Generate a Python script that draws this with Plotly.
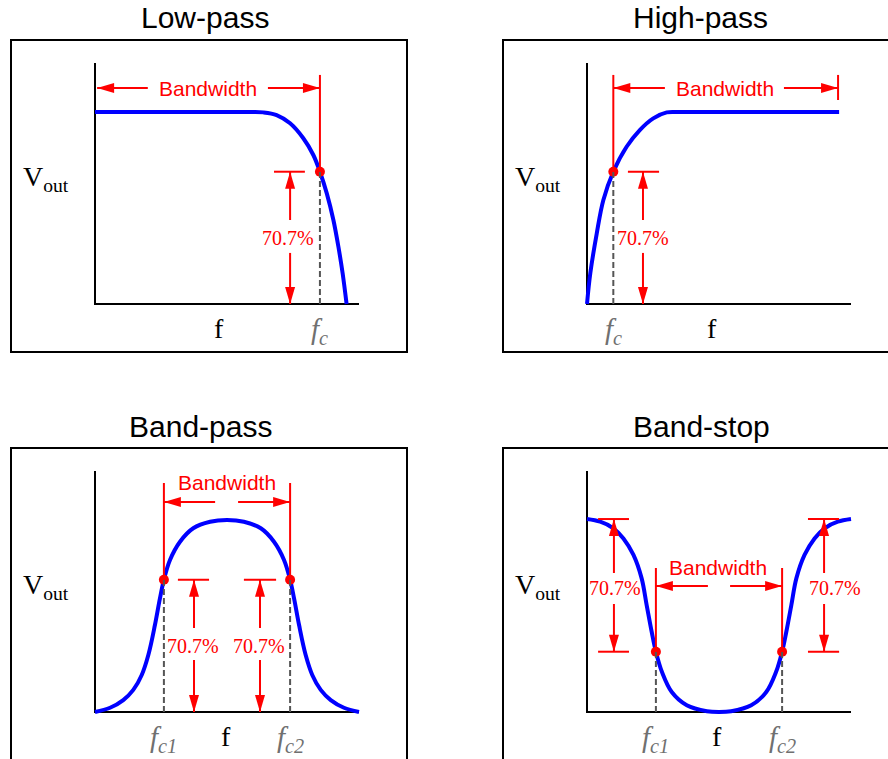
import plotly.graph_objects as go

# ── Curve data (f normalised to the axis length, Vout to the passband level) ──
LP_F = [0, 0.587, 0.638, 0.688, 0.739, 0.789, 0.827, 0.852, 0.878, 0.903, 0.922, 0.938, 0.953]
LP_V = [1, 1, 0.998, 0.984, 0.941, 0.863, 0.776, 0.689, 0.576, 0.4375, 0.298, 0.16, 0]

HP_F = [0, 0.0125, 0.037, 0.062, 0.0997, 0.15, 0.2, 0.251, 0.302, 0.352, 0.955]
HP_V = [0, 0.16, 0.368, 0.542, 0.689, 0.819, 0.906, 0.967, 0.998, 1, 1]

BP_F = [0, 0.057, 0.107, 0.145, 0.177, 0.202, 0.227, 0.246, 0.261, 0.284, 0.322, 0.372, 0.436, 0.5,
        0.564, 0.628, 0.678, 0.716, 0.739, 0.754, 0.773, 0.798, 0.823, 0.855, 0.893, 0.943, 1]
BP_V = [0, 0.022, 0.062, 0.115, 0.193, 0.297, 0.453, 0.592, 0.689, 0.792, 0.887, 0.957, 0.991, 1.0,
        0.991, 0.957, 0.887, 0.792, 0.689, 0.592, 0.453, 0.297, 0.193, 0.115, 0.062, 0.022, 0]

BS_F = [0, 0.05, 0.1, 0.138, 0.176, 0.207, 0.226, 0.245, 0.261, 0.284, 0.321, 0.378, 0.454, 0.5,
        0.546, 0.622, 0.679, 0.716, 0.739, 0.755, 0.774, 0.793, 0.824, 0.862, 0.9, 0.95, 1]
BS_V = [1.005, 0.991, 0.957, 0.904, 0.818, 0.696, 0.557, 0.418, 0.314, 0.208, 0.104, 0.035, 0.004, 0,
        0.004, 0.035, 0.104, 0.208, 0.314, 0.418, 0.557, 0.696, 0.818, 0.904, 0.957, 0.991, 1.005]

# cutoff points (f, Vout)
LP_CUT_F, LP_CUT_V = [0.852], [0.689]
HP_CUT_F, HP_CUT_V = [0.0997], [0.689]
BP_CUT_F, BP_CUT_V = [0.261, 0.739], [0.689, 0.689]
BS_CUT_F, BS_CUT_V = [0.261, 0.739], [0.314, 0.314]

TITLES = ['Low-pass', 'High-pass', 'Band-pass', 'Band-stop']

# ── Styling ────────────────────────────────────────────────────────────────
W, H = 888, 759
RED = '#FF0000'
BLUE = '#0000FF'
GRAY = '#707070'
SANS = 'Liberation Sans, Arial, sans-serif'
SERIF = 'Liberation Serif, Times New Roman, serif'
UX, UY = 264, 192          # pixels per data unit
HL, HW = 17, 5             # arrow head length / half width (px)

# panel geometry in pixels: axis origin, subplot domain box, frame box
ORIGINS = [(95, 304), (587, 304), (95, 712), (587, 712)]
DOMAINS = [(0, 444, 0, 379.5), (444, 888, 0, 379.5),
           (0, 444, 379.5, 759), (444, 888, 379.5, 759)]
FRAMES = [(11, 40, 407, 352), (503, 40, 900, 352),
          (11, 448, 407, 770), (503, 448, 900, 770)]
TITLE_POS = [(205, 18), (700, 18), (200, 426), (701, 426)]
VOUT_POS = [(21, 159), (513, 159), (21, 567), (513, 567)]

fig = go.Figure()
shapes, annos = [], []

layout_axes = {}
for i, ((ox, oy), (x0, x1, yt, yb)) in enumerate(zip(ORIGINS, DOMAINS), start=1):
    sfx = '' if i == 1 else str(i)
    layout_axes[f'xaxis{sfx}'] = dict(
        domain=[x0 / W, x1 / W], range=[(x0 - ox) / UX, (x1 - ox) / UX],
        visible=False, fixedrange=True, anchor=f'y{sfx}')
    layout_axes[f'yaxis{sfx}'] = dict(
        domain=[1 - yb / H, 1 - yt / H], range=[(oy - yb) / UY, (oy - yt) / UY],
        visible=False, fixedrange=True, anchor=f'x{sfx}')


def refs(n):
    return ('x', 'y') if n == 1 else (f'x{n}', f'y{n}')


def seg(n, xa, ya, xb, yb, color=RED, width=2, dash=None):
    xr, yr = refs(n)
    shapes.append(dict(type='line', xref=xr, yref=yr, x0=xa, y0=ya, x1=xb, y1=yb,
                       line=dict(color=color, width=width, dash=dash)))


def arrow(n, xa, ya, xb, yb):
    # tail (xa, ya) -> tip (xb, yb)
    xr, yr = refs(n)
    seg(n, xa, ya, xb, yb)
    if ya == yb:
        d = 1 if xb > xa else -1
        path = f'M0,0 L{-d * HL},{HW} L{-d * HL},{-HW} Z'
    else:
        d = 1 if yb > ya else -1
        path = f'M0,0 L{HW},{-d * HL} L{-HW},{-d * HL} Z'
    shapes.append(dict(type='path', xref=xr, yref=yr, xsizemode='pixel', ysizemode='pixel',
                       xanchor=xb, yanchor=yb, path=path, fillcolor=RED,
                       line=dict(width=0)))


def text(n, x, y, s, font, size, color, xanchor='center', yanchor='middle'):
    xr, yr = refs(n)
    annos.append(dict(xref=xr, yref=yr, x=x, y=y, text=s, showarrow=False,
                      xanchor=xanchor, yanchor=yanchor,
                      font=dict(family=font, size=size, color=color)))


def bw(n, x, y):
    text(n, x, y, 'Bandwidth', SANS, 21, RED)


def pct(n, x, y):
    text(n, x, y, '70.7%', SERIF, 20, RED)


def fc_label(n, x, s):
    text(n, x, -0.036, f'<i>{s}</i>', SERIF, 29, GRAY, yanchor='top')


def f_label(n, x):
    text(n, x, -0.036, 'f', SERIF, 28, 'black', yanchor='top')


curves = [(LP_F, LP_V, LP_CUT_F, LP_CUT_V), (HP_F, HP_V, HP_CUT_F, HP_CUT_V),
          (BP_F, BP_V, BP_CUT_F, BP_CUT_V), (BS_F, BS_V, BS_CUT_F, BS_CUT_V)]

for n, (cf, cv, kf, kv) in enumerate(curves, start=1):
    xr, yr = refs(n)
    # axes
    fig.add_trace(go.Scatter(x=[0, 0, 1], y=[1.255, 0, 0], mode='lines',
                             line=dict(color='black', width=2),
                             xaxis=xr, yaxis=yr, hoverinfo='skip'))
    # dashed drop lines
    for f, v in zip(kf, kv):
        seg(n, f, 0, f, v, color='#555555', width=2, dash='6px,3px')
    # response curve
    fig.add_trace(go.Scatter(x=cf, y=cv, mode='lines',
                             line=dict(color=BLUE, width=4, shape='spline', smoothing=1),
                             xaxis=xr, yaxis=yr, hoverinfo='skip'))
    # cutoff dots
    fig.add_trace(go.Scatter(x=kf, y=kv, mode='markers',
                             marker=dict(color=RED, size=10),
                             xaxis=xr, yaxis=yr, hoverinfo='skip'))

# ── Low-pass guides ──
fc, lv = LP_CUT_F[0], LP_CUT_V[0]
seg(1, fc, lv, fc, 1.193)
arrow(1, 0.2, 1.125, 0.008, 1.125)
arrow(1, 0.655, 1.125, fc, 1.125)
bw(1, 0.428, 1.125)
seg(1, 0.678, lv, 0.795, lv)
arrow(1, 0.739, 0.4375, 0.739, lv)
arrow(1, 0.739, 0.266, 0.739, 0)
pct(1, 0.73, 0.344)
f_label(1, 0.47)
fc_label(1, fc, 'f<sub>c</sub>')

# ── High-pass guides ──
fc, lv = HP_CUT_F[0], HP_CUT_V[0]
seg(2, fc, lv, fc, 1.193)
seg(2, 0.951, 1.0625, 0.951, 1.193)
arrow(2, 0.295, 1.125, fc, 1.125)
arrow(2, 0.746, 1.125, 0.951, 1.125)
bw(2, 0.523, 1.125)
seg(2, 0.155, lv, 0.273, lv)
arrow(2, 0.212, 0.4375, 0.212, lv)
arrow(2, 0.212, 0.266, 0.212, 0)
pct(2, 0.212, 0.344)
f_label(2, 0.473)
fc_label(2, fc, 'f<sub>c</sub>')

# ── Band-pass guides ──
f1, f2 = BP_CUT_F
lv = BP_CUT_V[0]
seg(3, f1, lv, f1, 1.193)
seg(3, f2, lv, f2, 1.193)
bw(3, 0.5, 1.193)
arrow(3, 0.455, 1.094, f1, 1.094)
arrow(3, 0.542, 1.094, f2, 1.094)
for xa, xb, xm, xt in [(0.314, 0.432, 0.375, 0.371), (0.564, 0.686, 0.625, 0.621)]:
    seg(3, xa, lv, xb, lv)
    arrow(3, xm, 0.4375, xm, lv)
    arrow(3, xm, 0.271, xm, 0)
    pct(3, xt, 0.344)
f_label(3, 0.497)
fc_label(3, f1, 'f<sub>c1</sub>')
fc_label(3, f2, 'f<sub>c2</sub>')

# ── Band-stop guides ──
f1, f2 = BS_CUT_F
lv = BS_CUT_V[0]
seg(4, f1, lv, f1, 0.75)
seg(4, f2, lv, f2, 0.75)
bw(4, 0.496, 0.755)
arrow(4, 0.458, 0.656, f1, 0.656)
arrow(4, 0.542, 0.656, f2, 0.656)
for xa, xb, xm, xt in [(0.042, 0.159, 0.102, 0.106), (0.837, 0.955, 0.898, 0.94)]:
    seg(4, xa, 1.005, xb, 1.005)
    seg(4, xa, lv, xb, lv)
    arrow(4, xm, 0.724, xm, 1.005)
    arrow(4, xm, 0.5625, xm, lv)
    pct(4, xt, 0.646)
f_label(4, 0.492)
fc_label(4, f1, 'f<sub>c1</sub>')
fc_label(4, f2, 'f<sub>c2</sub>')

# ── Frames, titles, Vout labels (paper coordinates) ──
for (bx0, by0, bx1, by1), (tx, ty), (vx, vy), title in zip(FRAMES, TITLE_POS, VOUT_POS, TITLES):
    shapes.append(dict(type='rect', xref='paper', yref='paper',
                       x0=bx0 / W, x1=bx1 / W, y0=1 - by1 / H, y1=1 - by0 / H,
                       line=dict(color='black', width=2), layer='below'))
    annos.append(dict(xref='paper', yref='paper', x=tx / W, y=1 - ty / H, text=title,
                      showarrow=False, xanchor='center', yanchor='middle',
                      font=dict(family=SANS, size=30, color='black')))
    annos.append(dict(xref='paper', yref='paper', x=vx / W, y=1 - vy / H,
                      text='V<sub>out</sub>', showarrow=False,
                      xanchor='left', yanchor='top',
                      font=dict(family=SERIF, size=28, color='black')))

fig.update_layout(
    width=W, height=H,
    margin=dict(l=0, r=0, t=0, b=0),
    paper_bgcolor='white', plot_bgcolor='rgba(0,0,0,0)',
    showlegend=False, hovermode=False,
    shapes=shapes, annotations=annos,
    **layout_axes,
)

# the page's default 8px body margin would shift the whole drawing
fig.write_html("out.html", config={'displayModeBar': False},
               post_script="document.body.style.margin='0';")
